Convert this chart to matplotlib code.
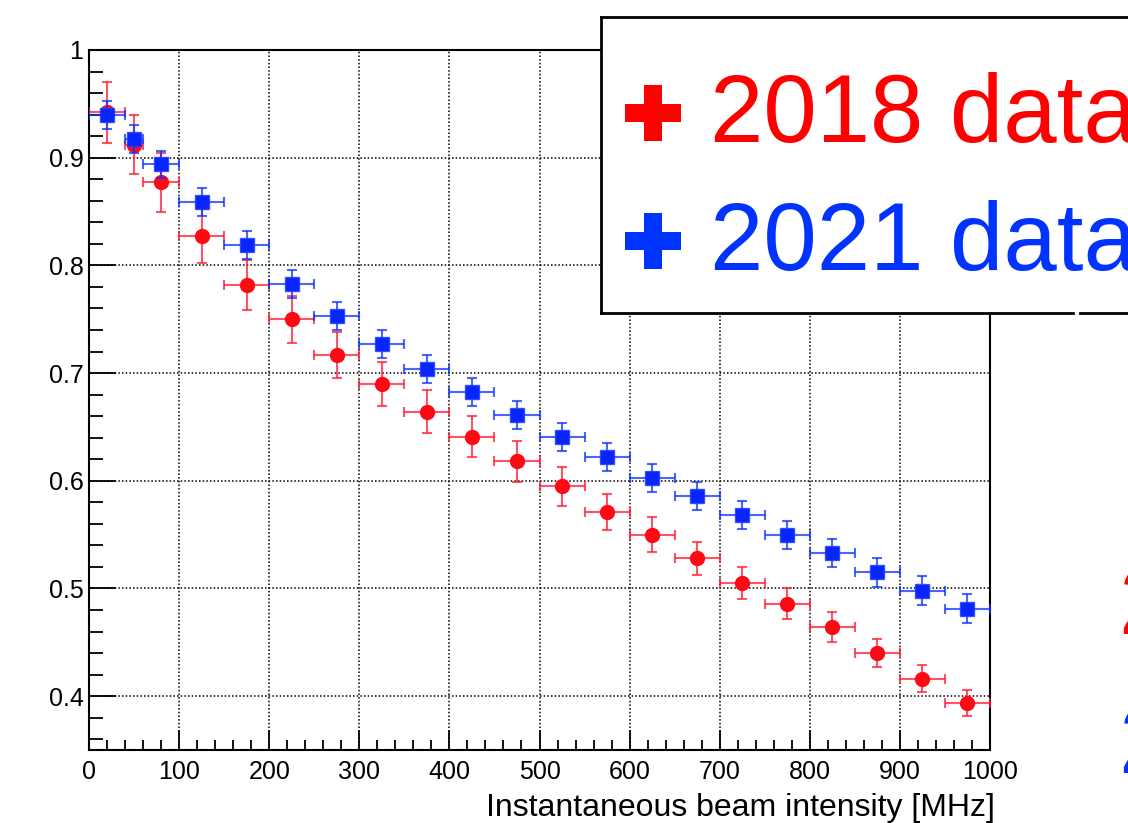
import matplotlib
matplotlib.use('Agg')
import matplotlib.pyplot as plt
from matplotlib.patches import Rectangle
from matplotlib.ticker import MultipleLocator, FuncFormatter

plt.rcParams['font.family'] = ['Liberation Sans', 'DejaVu Sans']

# bin centres and half widths [MHz]
intensity = [20, 50, 80, 125, 175, 225, 275, 325, 375, 425, 475,
             525, 575, 625, 675, 725, 775, 825, 875, 925, 975]
intensity_err = [20, 10, 20, 25, 25, 25, 25, 25, 25, 25, 25,
                 25, 25, 25, 25, 25, 25, 25, 25, 25, 25]

# 2018 data
eff_2018 = [0.942, 0.912, 0.877, 0.827, 0.782, 0.750, 0.717, 0.690, 0.664, 0.641, 0.618,
            0.595, 0.571, 0.550, 0.528, 0.505, 0.486, 0.464, 0.440, 0.416, 0.394]
err_2018 = [0.028, 0.0275, 0.027, 0.025, 0.023, 0.022, 0.0215, 0.0205, 0.020, 0.019, 0.0187,
            0.018, 0.017, 0.016, 0.0155, 0.015, 0.0145, 0.014, 0.013, 0.0126, 0.012]

# 2021 data
eff_2021 = [0.940, 0.917, 0.894, 0.859, 0.819, 0.783, 0.753, 0.727, 0.704, 0.682, 0.661,
            0.641, 0.622, 0.603, 0.586, 0.568, 0.550, 0.533, 0.515, 0.498, 0.481]
err_2021 = [0.013, 0.013, 0.0126, 0.013, 0.013, 0.013, 0.013, 0.013, 0.013, 0.013, 0.013,
            0.013, 0.013, 0.013, 0.013, 0.013, 0.013, 0.013, 0.0135, 0.0135, 0.0135]

labels = ['2018 data', '2021 data']
red = '#ff0a14'
blue = '#0a24ff'

W, H = 1128, 823
fig = plt.figure(figsize=(W / 100, H / 100), dpi=100)
ax = fig.add_axes([89 / W, 1 - 750 / H, (990 - 89) / W, 700 / H])

ax.errorbar(intensity, eff_2018, xerr=intensity_err, yerr=err_2018, fmt='o', ms=10,
            color=red, mec=red, ecolor=(1.0, 0.1, 0.2, 0.75), elinewidth=1.5,
            capsize=3.5, capthick=1.5, zorder=3)
ax.errorbar(intensity, eff_2021, xerr=intensity_err, yerr=err_2021, fmt='s', ms=9.5,
            color=blue, mec=(0.1, 0.25, 1.0, 0.8), ecolor=(0.05, 0.2, 1.0, 0.75),
            elinewidth=1.5, capsize=3.5, capthick=1.5, zorder=4)

ax.set_xlim(0, 1000)
ax.set_ylim(0.35, 1.0)
ax.xaxis.set_major_locator(MultipleLocator(100))
ax.xaxis.set_minor_locator(MultipleLocator(20))
ax.yaxis.set_major_locator(MultipleLocator(0.1))
ax.yaxis.set_minor_locator(MultipleLocator(0.02))
ax.yaxis.set_major_formatter(FuncFormatter(lambda v, p: '%g' % round(v, 2)))

ax.grid(True, which='major', color='black', linestyle=(0, (1, 1.4)), linewidth=1.1)
ax.set_axisbelow(True)

ax.tick_params(axis='x', which='major', direction='in', length=14.5, width=1.3,
               labelsize=18, pad=7)
ax.tick_params(axis='x', which='minor', direction='in', length=7.2, width=1.3)
ax.tick_params(axis='y', which='major', direction='in', length=19.5, width=1.3,
               labelsize=18, pad=4)
ax.tick_params(axis='y', which='minor', direction='in', length=9.8, width=1.3)
for s in ax.spines.values():
    s.set_linewidth(1.5)

ax.set_xlabel('Instantaneous beam intensity [MHz]', fontsize=23)
ax.xaxis.set_label_coords((995 - 89) / 901, -(793 - 750) / 700)
ax.xaxis.label.set_ha('right')

# overlay in pixel coordinates for the legend box
ov = fig.add_axes([0, 0, 1, 1], zorder=10)
ov.set_xlim(0, W)
ov.set_ylim(H, 0)
ov.axis('off')
ov.patch.set_alpha(0)

ov.add_patch(Rectangle((601, 17), 700, 296, facecolor='white', edgecolor='none'))
box_kw = dict(color='black', lw=2.0, solid_capstyle='projecting')
ov.plot([601, 1300], [17, 17], **box_kw)
ov.plot([601, 601], [17, 313], **box_kw)
ov.plot([601, 1073], [313, 313], **box_kw)
ov.plot([1080, 1300], [313, 313], **box_kw)

ov.plot(653, 113, marker='P', ms=41, color='#ff0000', mew=0)
ov.plot(653, 241, marker='P', ms=41, color='#0033ff', mew=0)
ov.text(710, 142, labels[0], fontsize=69, color='#ff0000', va='baseline', ha='left')
ov.text(710, 270, labels[1], fontsize=69, color='#0033ff', va='baseline', ha='left')

# clipped text at right edge
ov.text(1118, 634, '2', fontsize=69, color='#ff0000', va='baseline', ha='left')
ov.text(1118, 773, '2', fontsize=69, color='#0033ff', va='baseline', ha='left')

fig.savefig('out.png', dpi=100)
